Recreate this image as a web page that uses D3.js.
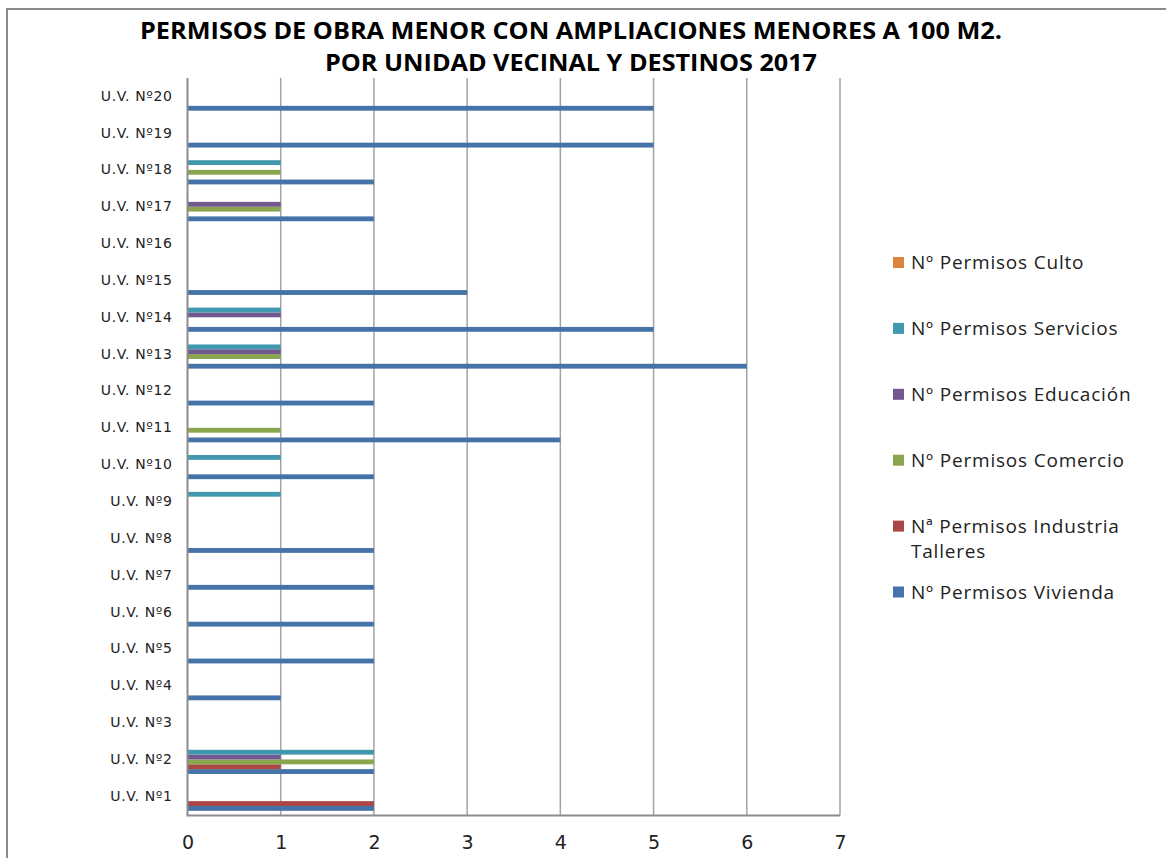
<!DOCTYPE html>
<html>
<head>
<meta charset="utf-8">
<script src="https://cdn.jsdelivr.net/npm/d3@7"></script>
<style>
  html, body { margin: 0; padding: 0; background: #fff; }
  svg { display: block; }
</style>
</head>
<body>
<svg id="chart" width="1166" height="858"></svg>
<script>
// ---- Data ----
const categories = ["U.V. Nº1","U.V. Nº2","U.V. Nº3","U.V. Nº4","U.V. Nº5","U.V. Nº6","U.V. Nº7","U.V. Nº8","U.V. Nº9","U.V. Nº10",
                    "U.V. Nº11","U.V. Nº12","U.V. Nº13","U.V. Nº14","U.V. Nº15","U.V. Nº16","U.V. Nº17","U.V. Nº18","U.V. Nº19","U.V. Nº20"];
const seriesNames = ["Nº Permisos Vivienda","Nª Permisos Industria Talleres","Nº Permisos Comercio","Nº Permisos Educación","Nº Permisos Servicios","Nº Permisos Culto"];
const vivienda  = [2,2,0,1,2,2,2,2,0,2,4,2,6,5,3,0,2,2,5,5];
const industria = [2,1,0,0,0,0,0,0,0,0,0,0,0,0,0,0,0,0,0,0];
const comercio  = [0,2,0,0,0,0,0,0,0,0,1,0,1,0,0,0,1,1,0,0];
const educacion = [0,1,0,0,0,0,0,0,0,0,0,0,1,1,0,0,1,0,0,0];
const servicios = [0,2,0,0,0,0,0,0,1,1,0,0,1,1,0,0,0,1,0,0];
const culto     = [0,0,0,0,0,0,0,0,0,0,0,0,0,0,0,0,0,0,0,0];
const seriesValues = [vivienda, industria, comercio, educacion, servicios, culto];
const seriesColors = ["#4572A7","#AA4643","#89A54E","#71588F","#4198AF","#DB843D"];
const xTicks = [0,1,2,3,4,5,6,7];
const titleLines = ["PERMISOS DE OBRA MENOR CON AMPLIACIONES MENORES A 100 M2.","POR UNIDAD VECINAL Y DESTINOS 2017"];

// ---- Layout ----
const svg = d3.select("#chart");
const plot = {left: 187.5, right: 840, top: 78, bottom: 815.5};

// outer border
svg.append("rect").attr("x", 7).attr("y", 9).attr("width", 1200).attr("height", 900)
  .attr("fill", "none").attr("stroke", "#8a8a8a").attr("stroke-width", 2);

// title
const title = svg.append("g").attr("font-family", "'Open Sans', sans-serif").attr("font-weight", "bold")
  .attr("font-size", 23.5).attr("fill", "#000").attr("text-anchor", "middle");
title.append("text").attr("x", 571).attr("y", 39).attr("textLength", 862).attr("lengthAdjust", "spacingAndGlyphs").text(titleLines[0]);
title.append("text").attr("x", 571).attr("y", 71).attr("textLength", 492).attr("lengthAdjust", "spacingAndGlyphs").text(titleLines[1]);

const x = d3.scaleLinear().domain([0, 7]).range([plot.left, plot.right]);
const y = d3.scaleBand().domain(categories).range([plot.bottom - 1, plot.top]).paddingInner(0.213).paddingOuter(0.1);
const ys = d3.scaleBand().domain(d3.range(seriesNames.length)).range([y.bandwidth(), 0]);

// gridlines
svg.append("g").selectAll("line").data(xTicks.filter(d => d > 0)).join("line")
  .attr("x1", d => x(d)).attr("x2", d => x(d))
  .attr("y1", plot.top).attr("y2", plot.bottom)
  .attr("stroke", "#a3a3a3").attr("stroke-width", 1.5);

// bars
const barsG = svg.append("g");
seriesValues.forEach((vals, si) => {
  barsG.append("g").selectAll("rect").data(vals.map((v, i) => ({v, c: categories[i]})).filter(d => d.v > 0)).join("rect")
    .attr("x", x(0))
    .attr("y", d => y(d.c) + ys(si))
    .attr("width", d => x(d.v) - x(0))
    .attr("height", ys.bandwidth())
    .attr("fill", seriesColors[si]);
});

// axes lines
svg.append("line").attr("x1", plot.left).attr("x2", plot.left).attr("y1", plot.top).attr("y2", plot.bottom)
  .attr("stroke", "#8c8c8c").attr("stroke-width", 2);
svg.append("line").attr("x1", plot.left - 1).attr("x2", plot.right).attr("y1", plot.bottom).attr("y2", plot.bottom)
  .attr("stroke", "#8c8c8c").attr("stroke-width", 2);

// x axis labels
const xAxis = d3.axisBottom(x).tickValues(xTicks).tickSize(0).tickPadding(20).tickFormat(d3.format("d"));
const xg = svg.append("g").attr("transform", `translate(0,${plot.bottom})`).call(xAxis);
xg.select(".domain").remove();
xg.selectAll("text").attr("font-family", "'DejaVu Sans', sans-serif").attr("font-size", 19).attr("fill", "#222");

// y axis labels
const yAxis = d3.axisLeft(y).tickSize(0).tickPadding(15);
const yg = svg.append("g").attr("transform", `translate(${plot.left},0)`).call(yAxis);
yg.select(".domain").remove();
yg.selectAll("text").attr("font-family", "'DejaVu Sans', sans-serif").attr("font-size", 14)
  .attr("letter-spacing", 0.6).attr("fill", "#222");

// legend
const legendOrder = d3.range(seriesNames.length).reverse();
const legend = svg.append("g").attr("font-family", "'Open Sans', sans-serif").attr("font-size", 19)
  .attr("letter-spacing", 0.8).attr("fill", "#222");
legendOrder.forEach((si, k) => {
  const cy = 262.5 + k * 65.9;
  legend.append("rect").attr("x", 893).attr("y", cy - 5.5).attr("width", 11).attr("height", 11).attr("fill", seriesColors[si]);
  const name = seriesNames[si];
  const t = legend.append("text").attr("x", 911).attr("y", cy).attr("dy", "0.35em");
  if (name.includes("Industria")) {
    t.append("tspan").attr("x", 911).text("Nª Permisos Industria");
    t.append("tspan").attr("x", 911).attr("dy", 25).text("Talleres");
  } else {
    t.text(name);
  }
});
</script>
</body>
</html>
